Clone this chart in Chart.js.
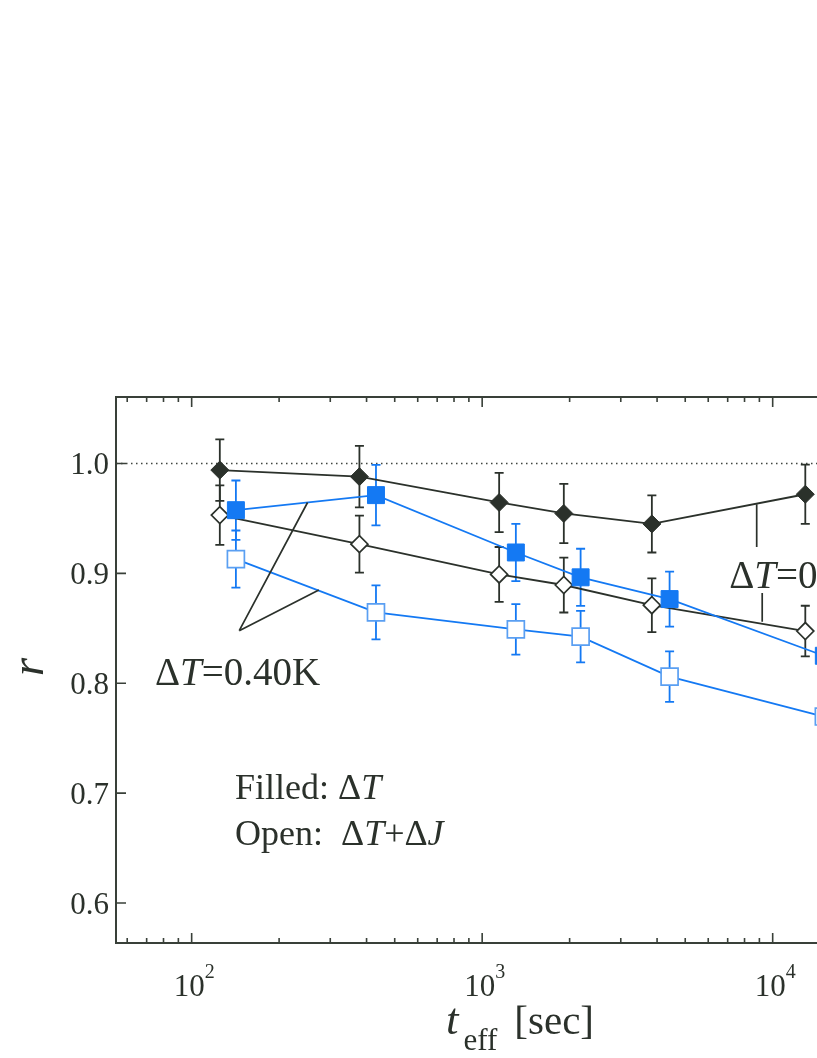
<!DOCTYPE html>
<html>
<head>
<meta charset="utf-8">
<script src="https://cdn.jsdelivr.net/npm/chart.js"></script>
<style>
  html, body { margin: 0; padding: 0; background: #fff; overflow: hidden; }
  body { width: 817px; height: 1058px; }
  #wrap { width: 1000px; height: 1058px; }
</style>
</head>
<body>
<div id="wrap"><canvas id="chart" width="1000" height="1058"></canvas></div>
<script>
// effective time t_eff [sec] of each run
const tBlack = [125, 378, 1144, 1910, 3838, 12950];
const tBlue = [142, 431, 1306, 2182, 4417, 15000];

// correlation r, filled = dT only, open = dT + dJ
const rBlackFilled = [0.994, 0.988, 0.9645, 0.9545, 0.945, 0.972];
const errBlackFilled = [0.028, 0.028, 0.027, 0.027, 0.026, 0.027];
const rBlackOpen = [0.953, 0.9266, 0.899, 0.8894, 0.871, 0.8475];
const errBlackOpen = [0.027, 0.026, 0.025, 0.025, 0.0245, 0.023];
const rBlueFilled = [0.9575, 0.9712, 0.919, 0.8964, 0.8766, 0.825];
const errBlueFilled = [0.027, 0.0275, 0.026, 0.026, 0.025, 0.025];
const rBlueOpen = [0.913, 0.8645, 0.849, 0.8424, 0.806, 0.7697];
const errBlueOpen = [0.026, 0.0245, 0.023, 0.0235, 0.023, 0.023];

// axes
const xMajorTicks = [100, 1000, 10000];
const xTickExps = ['2', '3', '4'];
const yTicks = [0.6, 0.7, 0.8, 0.9, 1.0];
const yTickLabels = ['0.6', '0.7', '0.8', '0.9', '1.0'];

const BLACK = '#2b312b';
const BLUE = '#1479f3';
const BLUE_LIGHT = '#5a9ff2';
const SERIF = '"Liberation Serif", "DejaVu Serif", serif';

function pts(xs, ys) {
    return xs.map((x, i) => ({x: x, y: ys[i]}));
}

// draw a row of text pieces (upright / italic / sub)
function drawRich(ctx, x, y, parts) {
    parts.forEach(p => {
        ctx.font = (p.italic ? 'italic ' : '') + p.size + 'px ' + SERIF;
        x += p.dx || 0;
        ctx.fillText(p.t, x, y + (p.dy || 0));
        x += ctx.measureText(p.t).width;
    });
}

// error bars + r = 1 reference line, under the markers
const errorBars = {
    id: 'errorBars',
    beforeDatasetsDraw(chart) {
        const {ctx, chartArea: a, scales: {x, y}} = chart;
        ctx.save();
        ctx.strokeStyle = '#3f453f';
        ctx.lineWidth = 1.4;
        ctx.setLineDash([1.5, 3.5]);
        const y1 = y.getPixelForValue(1.0);
        ctx.beginPath();
        ctx.moveTo(a.left, y1);
        ctx.lineTo(a.right, y1);
        ctx.stroke();
        ctx.setLineDash([]);

        chart.data.datasets.slice().reverse().forEach(ds => {
            ctx.strokeStyle = ds.errColor;
            ctx.lineWidth = 1.8;
            ds.data.forEach((p, i) => {
                const px = x.getPixelForValue(p.x);
                const top = y.getPixelForValue(p.y + ds.errors[i]);
                const bot = y.getPixelForValue(p.y - ds.errors[i]);
                ctx.beginPath();
                ctx.moveTo(px, top);
                ctx.lineTo(px, bot);
                ctx.moveTo(px - 4.5, top);
                ctx.lineTo(px + 4.5, top);
                ctx.moveTo(px - 4.5, bot);
                ctx.lineTo(px + 4.5, bot);
                ctx.stroke();
            });
        });
        ctx.restore();
    }
};

// frame, inward ticks, labels and notes
const frame = {
    id: 'frame',
    afterDraw(chart) {
        const {ctx, chartArea: a, scales: {x, y}} = chart;
        ctx.save();
        ctx.strokeStyle = '#394039';
        ctx.fillStyle = BLACK;
        ctx.lineWidth = 2;
        ctx.strokeRect(a.left, a.top, a.right - a.left, a.bottom - a.top);

        ctx.lineWidth = 1.6;
        ctx.beginPath();
        for (let e = 1; e <= 4; e++) {
            for (let k = 1; k <= 9; k++) {
                const v = k * Math.pow(10, e);
                if (v < x.min || v > x.max) continue;
                const px = x.getPixelForValue(v);
                const len = k === 1 ? 10 : 5;
                ctx.moveTo(px, a.bottom);
                ctx.lineTo(px, a.bottom - len);
                ctx.moveTo(px, a.top);
                ctx.lineTo(px, a.top + len);
            }
        }
        yTicks.forEach(v => {
            const py = y.getPixelForValue(v);
            ctx.moveTo(a.left, py);
            ctx.lineTo(a.left + 10, py);
            ctx.moveTo(a.right, py);
            ctx.lineTo(a.right - 10, py);
        });
        ctx.stroke();

        // y tick labels
        ctx.font = '31px ' + SERIF;
        ctx.textAlign = 'right';
        ctx.textBaseline = 'alphabetic';
        yTicks.forEach((v, i) => {
            ctx.fillText(yTickLabels[i], a.left - 7, y.getPixelForValue(v) + 11);
        });

        // x tick labels 10^n
        ctx.textAlign = 'left';
        xMajorTicks.forEach((v, i) => {
            const px = x.getPixelForValue(v);
            ctx.font = '31px ' + SERIF;
            const w = ctx.measureText('10').width;
            ctx.fillText('10', px - 18, a.bottom + 53);
            ctx.font = '20px ' + SERIF;
            ctx.fillText(xTickExps[i], px - 18 + w, a.bottom + 35);
        });

        // axis titles
        drawRich(ctx, 446, 1034, [
            {t: 't', italic: true, size: 45},
            {t: 'eff', size: 31, dy: 16, dx: 5},
            {t: '[sec]', size: 41, dx: 17}
        ]);
        ctx.save();
        ctx.translate(43, 667);
        ctx.rotate(-Math.PI / 2);
        ctx.textAlign = 'center';
        ctx.font = 'italic 47px ' + SERIF;
        ctx.fillText('r', 0, 0);
        ctx.restore();

        // pointer lines
        ctx.strokeStyle = BLACK;
        ctx.lineWidth = 1.7;
        const P = (t, r) => [x.getPixelForValue(t), y.getPixelForValue(r)];
        const seg = (p, q) => { ctx.moveTo(p[0], p[1]); ctx.lineTo(q[0], q[1]); };
        ctx.beginPath();
        seg(P(145.8, 0.8478), P(250.6, 0.9645));
        seg(P(145.8, 0.8478), P(274, 0.8848));
        seg(P(8810, 0.963), P(8810, 0.924));
        seg(P(9203, 0.8821), P(9203, 0.856));
        ctx.stroke();

        // notes
        ctx.textAlign = 'left';
        let p = P(74.8, 0.7985);
        drawRich(ctx, p[0], p[1], [
            {t: 'Δ', size: 39}, {t: 'T', italic: true, size: 39}, {t: '=0.40K', size: 39}
        ]);
        p = P(7088, 0.8864);
        drawRich(ctx, p[0], p[1], [
            {t: 'Δ', size: 39}, {t: 'T', italic: true, size: 39}, {t: '=0', size: 39}
        ]);
        p = P(141, 0.6945);
        drawRich(ctx, p[0], p[1], [
            {t: 'Filled: Δ', size: 36}, {t: 'T', italic: true, size: 36}
        ]);
        p = P(141, 0.6529);
        drawRich(ctx, p[0], p[1], [
            {t: 'Open:  Δ', size: 36}, {t: 'T', italic: true, size: 36},
            {t: '+Δ', size: 36}, {t: 'J', italic: true, size: 36}
        ]);
        ctx.restore();
    }
};

new Chart(document.getElementById('chart'), {
    type: 'scatter',
    data: {
        datasets: [
            {
                label: 'dT 0.40K filled',
                data: pts(tBlue, rBlueFilled),
                errors: errBlueFilled,
                errColor: BLUE,
                showLine: true,
                borderColor: BLUE,
                borderWidth: 1.8,
                pointStyle: 'rect',
                pointRadius: 12,
                pointBackgroundColor: BLUE,
                pointBorderColor: BLUE,
                pointBorderWidth: 1
            },
            {
                label: 'dT 0.40K open',
                data: pts(tBlue, rBlueOpen),
                errors: errBlueOpen,
                errColor: BLUE,
                showLine: true,
                borderColor: BLUE,
                borderWidth: 1.8,
                pointStyle: 'rect',
                pointRadius: 12,
                pointBackgroundColor: '#ffffff',
                pointBorderColor: BLUE_LIGHT,
                pointBorderWidth: 1.7
            },
            {
                label: 'dT filled',
                data: pts(tBlack, rBlackFilled),
                errors: errBlackFilled,
                errColor: BLACK,
                showLine: true,
                borderColor: BLACK,
                borderWidth: 1.8,
                pointStyle: 'rectRot',
                pointRadius: 9,
                pointBackgroundColor: BLACK,
                pointBorderColor: BLACK,
                pointBorderWidth: 1
            },
            {
                label: 'dT open',
                data: pts(tBlack, rBlackOpen),
                errors: errBlackOpen,
                errColor: BLACK,
                showLine: true,
                borderColor: BLACK,
                borderWidth: 1.8,
                pointStyle: 'rectRot',
                pointRadius: 8.5,
                pointBackgroundColor: '#ffffff',
                pointBorderColor: BLACK,
                pointBorderWidth: 1.7
            }
        ]
    },
    options: {
        responsive: false,
        animation: false,
        events: [],
        layout: { padding: { left: 116, top: 397, right: 52, bottom: 115 } },
        scales: {
            x: { type: 'logarithmic', min: 54.9, max: 40130, display: false },
            y: { type: 'linear', min: 0.5636, max: 1.0605, display: false }
        },
        plugins: {
            legend: { display: false },
            tooltip: { enabled: false }
        }
    },
    plugins: [errorBars, frame]
});
</script>
</body>
</html>
